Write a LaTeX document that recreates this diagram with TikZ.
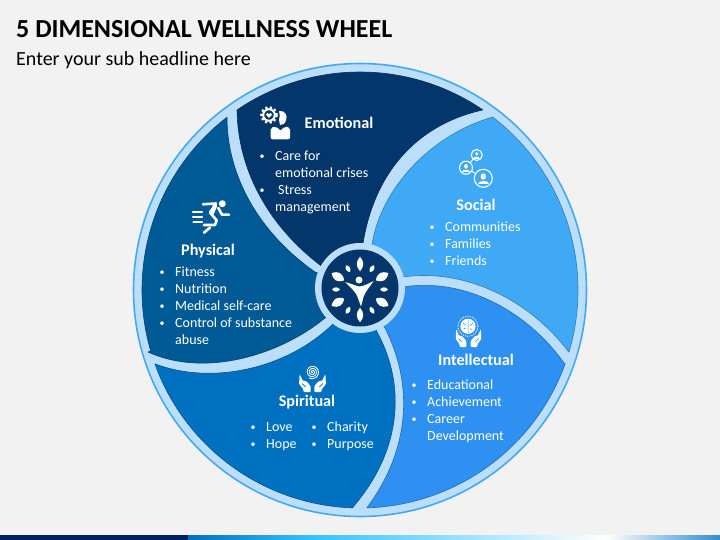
\documentclass[tikz,border=0pt]{standalone}
\usepackage{fontspec}
\setmainfont{Carlito}
\definecolor{bgc}{HTML}{F2F2F2}
\definecolor{bandc}{HTML}{BBDEFB}
\definecolor{rimc}{HTML}{42A9F5}
\definecolor{emoc}{HTML}{03366B}
\definecolor{phyc}{HTML}{005A96}
\definecolor{spic}{HTML}{0070C0}
\definecolor{intc}{HTML}{2E90F0}
\definecolor{socc}{HTML}{3FA9F5}
\definecolor{barc}{HTML}{00205F}
\newcommand\bl{\llap{\raisebox{1pt}{\fontsize{10}{10}\selectfont\textbullet}\hspace{10.5pt}}}
\newcommand\wleaf[4]{\fill[white,shift={(360,289.5)},rotate=#1] (#2-#3/2,0) .. controls (#2-#3/6,#4*.66) and (#2+#3/6,#4*.66) .. (#2+#3/2,0) .. controls (#2+#3/6,-#4*.66) and (#2-#3/6,-#4*.66) .. cycle;}
\newcommand\persona[3]{%
  \draw[white,line width=1.1pt] (#1,#2) circle (#3);
  \fill[white] (#1,#2-.2*#3) ellipse ({.3*#3} and {.36*#3});
  \fill[white] (#1-.62*#3,#2+.68*#3) .. controls (#1-.62*#3,#2+.15*#3) and (#1+.62*#3,#2+.15*#3) .. (#1+.62*#3,#2+.68*#3) -- cycle;}
\newcommand\chand[4]{\begin{scope}[shift={(#1,#2)},xscale=#3]
  \fill[white,rounded corners=.8pt] (-11,-18) -- (-8,-11.5) -- (-4,-10.5) -- (0,-6) -- (0,0) -- (-7,0) -- (-7.5,-3) -- (-11.5,-8) -- cycle;
  \draw[#4,line width=.6pt] (-8.5,-8.5) -- (-5,-5);
\end{scope}}
\tikzset{
  seg/.style={line width=.6pt,line join=round},
  head/.style={font=\fontsize{16.2}{18}\bfseries\selectfont,text=white,inner sep=0pt},
  listing/.style={font=\fontsize{14}{17}\selectfont,text=white,inner sep=0pt,anchor=north west,align=left,execute at begin node={\rule{0pt}{11pt}}},
  iconline/.style={white,line cap=round,line join=round}
}
\begin{document}
\begin{tikzpicture}[x=1pt,y=-1pt]
\useasboundingbox (0,0) rectangle (720,540);
\fill[bgc] (0,0) rectangle (720,540);
% bottom bar
\fill[barc] (0,535) rectangle (188,540);
\shade[left color=spic,right color=cyan!70!blue!80!white,shading angle=90] (188,535) rectangle (310,540);
\shade[left color=cyan!70!blue!80!white,right color=white] (309.5,535) rectangle (606,540);
\shade[left color=white,right color=spic!80!white] (605.5,535) rectangle (720,540);
% title
\node[anchor=base west,inner sep=0pt,font=\fontsize{26}{28}\bfseries\selectfont,text=black] (title) at (16,38) {5 DIMENSIONAL WELLNESS WHEEL};
\node[anchor=base west,inner sep=0pt,font=\fontsize{20}{22}\selectfont,text=black] (subtitle) at (16,66) {Enter your sub headline here};
% wheel
\fill[bandc,draw=rimc,line width=1.6pt] (360,290) circle (226.5);
% segments
\draw[seg,fill=emoc,draw=emoc!85!black] (360,290) ++(-124.3:218) arc[start angle=-124.3,end angle=-55.7,radius=218]
  .. controls (415,125) and (372,175) .. (362,250) -- (360,288) -- (320,265)
  .. controls (268,225) and (238,170) .. (237,110) -- cycle;
\draw[seg,fill=socc,draw=socc!75!black] (360,290) ++(-52.4:218) arc[start angle=-52.4,end angle=16.6,radius=218]
  .. controls (530,300) and (465,268) .. (403,277) -- (360,288) -- (372,245)
  .. controls (380,190) and (430,135) .. (493,117) -- cycle;
\draw[seg,fill=intc,draw=intc!75!black] (360,290) ++(19.7:218) arc[start angle=19.7,end angle=88.2,radius=218]
  .. controls (410,450) and (414,385) .. (385,328) -- (360,288) -- (403,287)
  .. controls (465,277) and (528,312) .. (564,363) -- cycle;
\draw[seg,fill=spic,draw=spic!75!black] (360,290) ++(91.8:218) arc[start angle=91.8,end angle=160.2,radius=218]
  .. controls (210,385) and (285,370) .. (332,325) -- (360,288) -- (377,332)
  .. controls (406,385) and (402,450) .. (353,507) -- cycle;
\draw[seg,fill=phyc,draw=phyc!75!black] (360,290) ++(163.7:218) arc[start angle=163.7,end angle=232.4,radius=218]
  .. controls (227,175) and (258,232) .. (315,272) -- (360,288) -- (325,318)
  .. controls (280,355) and (205,378) .. (148,352) -- cycle;
% hub
\fill[bandc] (360,288) circle (45);
\fill[emoc] (360,288) circle (38.5);
\foreach \a in {90,30,-30,-90,-150,150} {\pgfmathsetmacro\wd{abs(sin(\a))>.9?6.5:8.5}\wleaf{\a}{25.5}{14.5}{\wd}}
\foreach \a in {0,60,120,180,240,300} {\wleaf{\a}{24}{8}{4.4}}
\fill[white] (359,280) circle (3.5);
\fill[white] (345,282) .. controls (351,283.5) and (356,286) .. (359.5,286.5) .. controls (364,286) and (368,284) .. (373.5,281)
  .. controls (369,288) and (365,292) .. (363.5,297) -- (361,306.5) -- (357.5,297) .. controls (356,292) and (351,288) .. cycle;
% Emotional icon
\draw[white,line width=2pt] (269,115) circle (5.8);
\draw[white,line width=2.4pt,dash pattern=on 2.2pt off 2.35pt] (269,115) circle (7.6);
\fill[white] (269,118) -- (266,114.8) .. controls (266,112.5) and (268.5,112.5) .. (269,114) .. controls (269.5,112.5) and (272,112.5) .. (272,114.8) -- cycle;
\fill[white] (279,111) .. controls (285,110) and (288,116) .. (286,120) .. controls (285,124) and (283,125) .. (280,125) -- (279,120) .. controls (280,117) and (280,114) .. (279,111);
\fill[white,rounded corners=2pt] (270.7,127.5) -- (276.5,126.5) -- (280.5,131) -- (284.5,126.5) -- (290,127.5) -- (290,139.3) -- (270.7,139.3) -- cycle;
% Physical icon
\fill[white] (222.3,203.7) circle (3.5);
\draw[iconline,line width=2.4pt] (193,212) -- (202,212) (193,217) -- (202,217) (193.5,222) -- (202,222);
\draw[iconline,line width=2.6pt] (203,204.3) -- (216,203.5) -- (210,212.7) -- (216.7,220.3) -- (215,225) -- (204,225);
\draw[iconline,line width=2.6pt] (218.3,208) -- (222,214.7) -- (229,214.7);
\draw[iconline,line width=2.6pt] (204,232.7) -- (210,227.5);
\draw[iconline,line width=4pt] (215,206) -- (212,213);
% Social icon
\draw[white,line width=.9pt] (476.7,155) -- (466,167.7) -- (483.3,178.3);
\fill[socc] (476.7,155) circle (5.5) (466,167.7) circle (6.5) (483.3,178.3) circle (9);
\persona{476.7}{155}{5.5}
\persona{466}{167.7}{6.5}
\persona{483.3}{178.3}{9}
% Spiritual icon
\draw[white,line width=.85pt] plot[domain=0:1200,samples=80,variable=\t,smooth] ({312.3+\t/1200*6.8*cos(\t)},{372+\t/1200*6.8*sin(\t)});
\chand{310.6}{392}{1}{spic}
\chand{314.4}{392}{-1}{spic}
% Intellectual icon
\draw[white,line width=.9pt,dash pattern=on 1pt off 1.2pt] (468,326.3) circle (10);
\fill[white] (468,326.3) circle (7.6);
\draw[intc,line width=.5pt] (468,319.5) -- (468,333) (463,323) -- (466,325) (473,323) -- (470,326) (463.5,329) -- (466,328) (472,330) -- (470,328.5);
\chand{466.3}{347}{.92}{intc}
\chand{470.7}{347}{-.92}{intc}
% headings
\node[head] (hemo) at (339,122.5) {Emotional};
\node[head] (hphy) at (208,251) {Physical};
\node[head] (hsoc) at (476,204.5) {Social};
\node[head] (hint) at (476,359.5) {Intellectual};
\node[head] (hspi) at (307,402) {Spiritual};
% lists
\node[listing] (lemo) at (275,150.5) {\bl Care for\\emotional crises\\\bl\hspace{3pt}Stress\\management};
\node[listing] (lphy) at (175,266.5) {\bl Fitness\\\bl Nutrition\\\bl Medical self-care\\\bl Control of substance\\abuse};
\node[listing] (lsoc) at (445,221.5) {\bl Communities\\\bl Families\\\bl Friends};
\node[listing] (lint) at (427,379.5) {\bl Educational\\\bl Achievement\\\bl Career\\Development};
\node[listing] (lspa) at (266,422.5) {\bl Love\\\bl Hope};
\node[listing] (lspb) at (327,421.5) {\bl Charity\\\bl Purpose};
\end{tikzpicture}
\end{document}
